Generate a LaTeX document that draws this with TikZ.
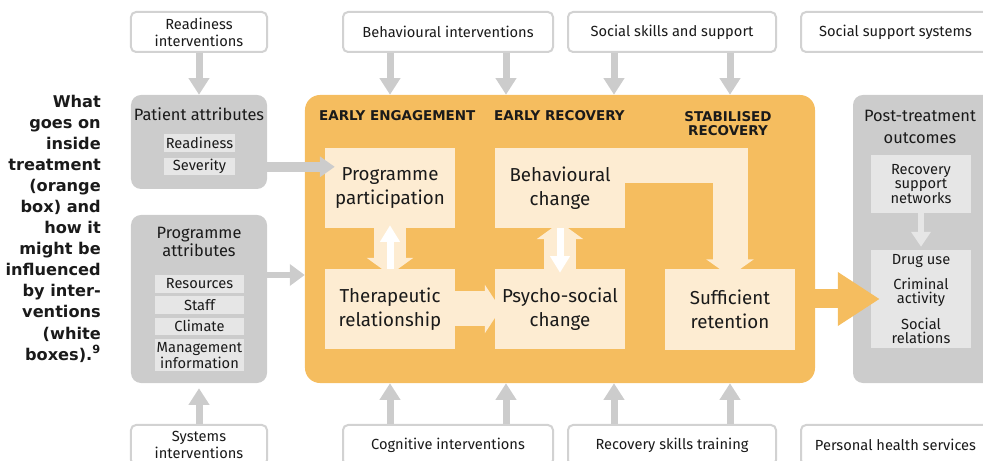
\documentclass[tikz,border=0pt]{standalone}
\usepackage{fontspec}
\setmainfont{Fira Sans}
\newfontfamily\headfont{DejaVu Sans}
\usetikzlibrary{arrows.meta, positioning}
\definecolor{treatorange}{RGB}{245,189,95}
\definecolor{treatlight}{RGB}{253,236,210}
\definecolor{boxgray}{RGB}{204,204,204}
\definecolor{innergray}{RGB}{230,230,230}
\definecolor{framegray}{RGB}{210,210,210}
\definecolor{inktext}{RGB}{26,26,26}

\begin{document}
\begin{tikzpicture}[
  x=0.03cm, y=-0.03cm,
  every node/.style={text=inktext},
  interv/.style={rectangle, rounded corners=0.15cm, draw=framegray, line width=0.06cm, fill=white, minimum height=1.2cm, align=center, font=\fontsize{12.5}{14.5}\selectfont},
  attrbox/.style={rectangle, rounded corners=0.3cm, fill=boxgray},
  attrtitle/.style={align=center, font=\fontsize{14}{15.5}\selectfont},
  attritem/.style={rectangle, fill=innergray, inner sep=0pt, minimum width=2.67cm, minimum height=0.52cm, align=center, font=\fontsize{12.5}{12}\selectfont},
  stage/.style={rectangle, fill=treatlight, minimum width=3.9cm, minimum height=2.4cm, align=center, font=\fontsize{16}{20}\selectfont},
  phasehead/.style={align=center, font=\headfont\bfseries\fontsize{11.5}{12}\selectfont},
  grayarrow/.style={draw=boxgray, line width=0.21cm, -{Triangle[width=0.6cm,length=0.5cm]}},
  lightarrow/.style={draw=treatlight, line width=0.96cm, -{Triangle[width=1.38cm,length=0.51cm]}},
  whitearrow/.style={draw=white, line width=0.21cm, -{Triangle[width=0.57cm,length=0.5cm]}}
]
  \useasboundingbox (0,0) rectangle (983,461);
  \clip (0,0) rectangle (983,461);

  % side caption
  \node[align=right, anchor=east, inner sep=0pt, font=\headfont\bfseries\fontsize{13.8}{18}\selectfont] (caption) at (101,228.5)
    {What\\goes on\\inside\\treatment\\(orange\\box) and\\how it\\might be\\influenced\\by inter-\\ventions\\(white\\boxes).\textsuperscript{9}};

  % interventions (white boxes)
  \node[interv, minimum width=4.08cm] (readint) at (199,32) {Readiness\\interventions};
  \node[interv, minimum width=6.3cm] (behint) at (448,32) {Behavioural interventions};
  \node[interv, minimum width=6.24cm] (sskill) at (672,32) {Social skills and support};
  \node[interv, minimum width=5.67cm] (ssys) at (895.5,32) {Social support systems};
  \node[interv, minimum width=4.08cm] (sysint) at (199,445) {Systems\\interventions};
  \node[interv, minimum width=6.3cm] (cogint) at (448,445) {Cognitive interventions};
  \node[interv, minimum width=6.24cm] (rskill) at (672,445) {Recovery skills training};
  \node[interv, minimum width=5.67cm] (phealth) at (895.5,445) {Personal health services};

  % patient and programme attributes
  \node[attrbox, minimum width=4.08cm, minimum height=2.82cm] (patient) at (199,142) {};
  \node[attrtitle] (pattitle) at (199,114) {Patient attributes};
  \node[attritem, minimum width=2.13cm] (readiness) at (199.5,143) {Readiness};
  \node[attritem, minimum width=2.13cm, below=0.18cm of readiness] (severity) {Severity};

  \node[attrbox, minimum width=4.08cm, minimum height=5.04cm] (progattr) at (199,299) {};
  \node[attrtitle] (progtitle) at (199,242) {Programme\\attributes};
  \node[attritem] (resources) at (199.5,284) {Resources};
  \node[attritem, below=0.1cm of resources] (staff) {Staff};
  \node[attritem, below=0.1cm of staff] (climate) {Climate};
  \node[attritem, minimum height=0.96cm, below=0.12cm of climate] (mgmt) {Management\\information};

  % treatment (orange box)
  \node[rectangle, rounded corners=0.45cm, fill=treatorange, minimum width=15.3cm, minimum height=8.64cm] (treat) at (560,239) {};
  \node[phasehead, anchor=west] (hengage) at (315,116) {EARLY ENGAGEMENT};
  \node[phasehead, anchor=west] (hrecover) at (490,116) {EARLY RECOVERY};
  \node[phasehead] (hstable) at (728,124) {STABILISED\\RECOVERY};

  \node[stage] (particip) at (390,188) {Programme\\participation};
  \node[stage] (therap) at (390,309) {Therapeutic\\relationship};
  \node[stage] (behav) at (560,188) {Behavioural\\change};
  \node[stage] (psycho) at (560,309) {Psycho-social\\change};
  \node[stage] (retention) at (730,309.5) {Sufficient\\retention};

  % post-treatment outcomes
  \node[attrbox, minimum width=4.41cm, minimum height=8.64cm] (post) at (926.5,239) {};
  \node[align=center, font=\fontsize{14}{18.7}\selectfont] (posttitle) at (920,127) {Post-treatment\\outcomes};
  \node[attritem, minimum width=3cm, minimum height=1.74cm, font=\fontsize{12.5}{12.75}\selectfont] (recsup) at (921,184) {Recovery\\support\\networks};
  \node[attritem, minimum width=3cm, minimum height=2.94cm] (outc) at (921,299) {Drug use\\[8pt]Criminal\\activity\\[8pt]Social\\relations};

  % arrows from interventions
  \draw[grayarrow] (readint) -- (patient);
  \draw[grayarrow, shorten >=0.15cm] (sysint) -- (progattr);
  \foreach \src in {behint, sskill} {
    \foreach \dx in {-1.74cm, 1.74cm}
      \draw[grayarrow] ([xshift=\dx]\src.south) -- ([xshift=\dx]\src.south |- treat.north);
  }
  \foreach \src in {cogint, rskill} {
    \foreach \dx in {-1.74cm, 1.74cm}
      \draw[grayarrow] ([xshift=\dx]\src.north) -- ([xshift=\dx]\src.north |- treat.south);
  }

  % attributes into treatment
  \draw[grayarrow, line width=0.3cm, -{Triangle[width=0.6cm,length=0.45cm]}] (patient.east |- severity) -- ([xshift=0.3cm]particip.west |- severity);
  \coordinate (pafoot) at ([yshift=0.72cm]progattr.east);
  \draw[grayarrow, line width=0.2cm, -{Triangle[width=0.63cm,length=0.45cm]}] (pafoot) -- (pafoot -| treat.west);

  % links inside treatment
  \draw[lightarrow] (particip) -- ([yshift=-0.18cm]therap.north);
  \draw[whitearrow] (therap.north) -- ([yshift=0.09cm]particip.south);
  \draw[lightarrow] (psycho) -- ([yshift=0.18cm]behav.south);
  \draw[whitearrow] (behav.south) -- ([yshift=-0.12cm]psycho.north);
  \draw[lightarrow, line width=1.05cm, -{Triangle[width=1.44cm,length=0.48cm]}] (therap) -- ([xshift=0.18cm]psycho.west);
  \draw[lightarrow, line width=1.05cm, -{Triangle[width=1.41cm,length=0.51cm]}] ([yshift=-0.54cm]behav.north east) -| ([yshift=-0.21cm]retention.north);

  % treatment to outcomes
  \draw[draw=treatorange, line width=0.57cm, -{Triangle[width=1.53cm,length=1.26cm]}] (treat.east |- outc) -- ([xshift=0.27cm]outc.west);
  \draw[draw=innergray, line width=0.18cm, -{Triangle[width=0.57cm,length=0.45cm]}] (recsup) -- ([yshift=0.09cm]outc.north);
\end{tikzpicture}
\end{document}
